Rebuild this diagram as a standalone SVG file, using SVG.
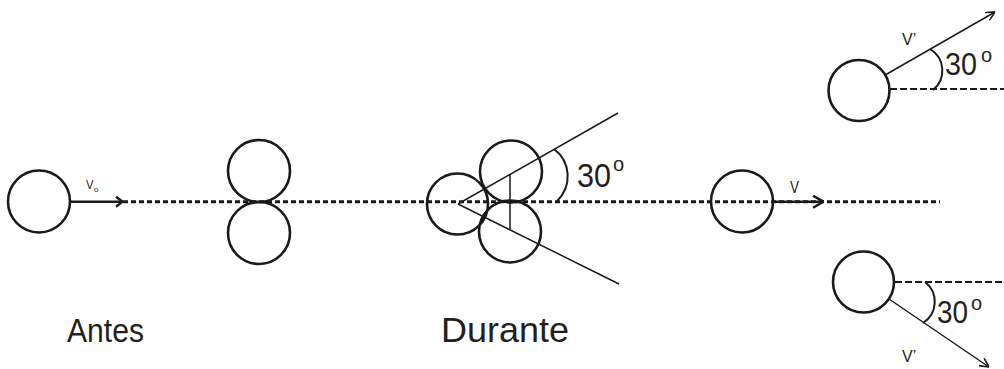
<svg xmlns="http://www.w3.org/2000/svg" width="1004" height="369" viewBox="0 0 1004 369">
<style>
.ball{fill:none;stroke:#1a1a1a;stroke-width:2.6}
.thin{fill:none;stroke:#1a1a1a;stroke-width:1.5}
.thick{fill:none;stroke:#1a1a1a;stroke-width:2.6}
.dash{fill:none;stroke:#1a1a1a;stroke-width:3;stroke-dasharray:5 3}
.dash2{fill:none;stroke:#1a1a1a;stroke-width:1.8;stroke-dasharray:7 3}
.arc{fill:none;stroke:#1a1a1a;stroke-width:2}
text{font-family:"Liberation Sans",Arial,sans-serif;fill:#231f20}
.lbl{font-size:34px}
.deg{font-size:33px}
.sup{font-size:20px}
.v{font-size:16px}
</style>
<defs>
<marker id="chev" viewBox="0 0 10 10" refX="10" refY="5" markerWidth="10" markerHeight="10" markerUnits="userSpaceOnUse" orient="auto">
<path d="M1,0.5 L10,5 L1,9.5" fill="none" stroke="#1a1a1a" stroke-width="1.6"/>
</marker>
<marker id="chevb" viewBox="0 0 8 12" refX="8" refY="6" markerWidth="8" markerHeight="12" markerUnits="userSpaceOnUse" orient="auto">
<path d="M1,1 L7.5,6 L1,11" fill="none" stroke="#1a1a1a" stroke-width="2.4"/>
</marker>
<marker id="chevc" viewBox="0 0 12 14" refX="12" refY="7" markerWidth="12" markerHeight="14" markerUnits="userSpaceOnUse" orient="auto">
<path d="M1,1 L11.5,7 L1,13" fill="none" stroke="#1a1a1a" stroke-width="2.4"/>
</marker>
</defs>
<g id="connectors">
<line class="dash" x1="123" y1="201.7" x2="940" y2="201.7"/>
<line class="thick" x1="70" y1="201.7" x2="123" y2="201.7" marker-end="url(#chevb)"/>
<line class="thick" x1="773" y1="201.7" x2="824" y2="201.7" marker-end="url(#chevc)"/>
<line class="thin" x1="458" y1="204" x2="618" y2="113"/>
<line class="thin" x1="458" y1="204" x2="619" y2="284"/>
<line class="thin" x1="510" y1="174" x2="510" y2="230"/>
<path class="arc" d="M554,149 A34 34 0 0 1 557,201"/>
<line class="thin" x1="886" y1="74.5" x2="995" y2="12" marker-end="url(#chev)"/>
<line class="dash2" x1="890" y1="89" x2="1004" y2="89"/>
<path class="arc" d="M930,49 A25 25 0 0 1 933,90"/>
<line class="thin" x1="889" y1="299" x2="989" y2="367" marker-end="url(#chev)"/>
<line class="dash2" x1="895" y1="282" x2="1004" y2="282"/>
<path class="arc" d="M925,282 A25 25 0 0 1 923,323"/>
</g>
<g id="antes">
<circle class="ball" cx="39" cy="201.5" r="31"/>
<text x="86" y="189" style="font-size:13px" textLength="7.5" lengthAdjust="spacingAndGlyphs">V</text>
<text x="94" y="192" style="font-size:8px">o</text>
<text class="lbl" x="67" y="342" textLength="77" lengthAdjust="spacingAndGlyphs">Antes</text>
</g>
<g id="contacto">
<circle class="ball" cx="259" cy="171" r="31"/>
<circle class="ball" cx="259" cy="233" r="31"/>
</g>
<g id="durante">
<circle class="ball" cx="457.5" cy="204" r="30.5"/>
<circle class="ball" cx="511" cy="171.5" r="31"/>
<circle class="ball" cx="510" cy="231.5" r="31"/>
<text class="deg" x="577" y="187"><tspan textLength="34" lengthAdjust="spacingAndGlyphs">30</tspan><tspan class="sup" x="613" y="171">o</tspan></text>
<text class="lbl" x="441" y="342" style="font-size:35px" textLength="128" lengthAdjust="spacingAndGlyphs">Durante</text>
</g>
<g id="despues">
<circle class="ball" cx="742" cy="201.5" r="31"/>
<text class="v" x="790" y="193" textLength="9" lengthAdjust="spacingAndGlyphs">V</text>
</g>
<g id="bola-superior">
<circle class="ball" cx="859" cy="90.5" r="30.5"/>
<text class="v" x="902" y="45">V’</text>
<text class="deg" x="945" y="75" style="font-size:31px"><tspan textLength="32" lengthAdjust="spacingAndGlyphs">30</tspan><tspan class="sup" x="981" y="62">o</tspan></text>
</g>
<g id="bola-inferior">
<circle class="ball" cx="863.5" cy="282" r="30.5"/>
<text class="v" x="902" y="362">V’</text>
<text class="deg" x="937" y="323" style="font-size:32px"><tspan textLength="31" lengthAdjust="spacingAndGlyphs">30</tspan><tspan class="sup" x="971" y="310">o</tspan></text>
</g>
</svg>
